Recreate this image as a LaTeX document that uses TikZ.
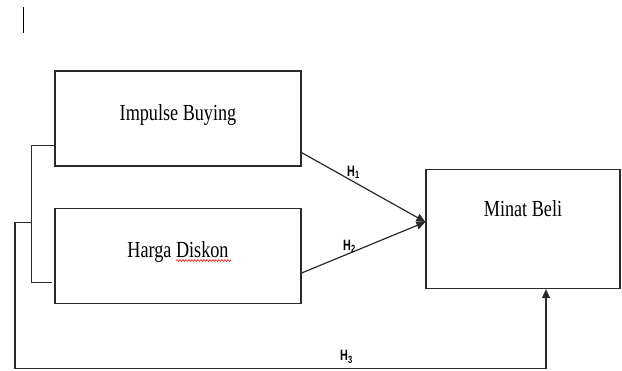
\documentclass[tikz,border=0pt]{standalone}
\usepackage{fontspec}
\setmainfont{Liberation Serif}
\newfontfamily\boxfont[FakeStretch=0.79]{Liberation Serif}
\newfontfamily\hfont[FakeStretch=0.72]{Liberation Sans}
\usetikzlibrary{arrows.meta,calc,decorations.pathmorphing}
\definecolor{linecol}{HTML}{2A2A2A}
\begin{document}
\begin{tikzpicture}[x=1pt,y=-1pt,
  box/.style={draw=linecol, line width=1.2pt, rectangle, inner sep=0pt},
  lbl/.style={inner sep=0pt, anchor=base, text=black, font=\boxfont\fontsize{23}{26}\selectfont},
  hlbl/.style={inner sep=0pt, anchor=base west, text=black, font=\hfont\bfseries\fontsize{15}{17}\selectfont},
  conn/.style={draw=linecol, line width=1.2pt},
  arr/.style={conn, -{Triangle[length=9pt,width=8pt]}}]
\useasboundingbox (0,0) rectangle (622,370);
% text cursor
\draw[black, line width=1pt] (23,7) coordinate (cur1) -- (23,33) coordinate (cur2);
% boxes
\node[box, minimum width=246pt, minimum height=95pt] (imp) at (178,118.5) {};
\node[box, minimum width=246pt, minimum height=95pt] (harga) at (178,256) {};
\node[box, minimum width=194pt, minimum height=119pt] (minat) at (523,229) {};
% texts
\node[lbl] (impT) at (178,120.7) {Impulse Buying};
\node[lbl] (hargaT) at (178,257.7) {Harga Diskon};
\node[lbl] (minatT) at (523,216) {Minat Beli};
% spell-check underline
\draw[red, line width=0.6pt, decorate, decoration={snake, amplitude=0.9pt, segment length=3pt}]
  (176,260.5) coordinate (w1) -- (231,260.5) coordinate (w2);
% bracket joining the two boxes
\coordinate (b1) at ($(imp.south west)+(0,-21)$);
\coordinate (b2) at ($(harga.south west)+(-2,-22)$);
\coordinate (b1x) at ($(b1)+(-23,0)$);
\coordinate (b2x) at (b1x |- b2);
\draw[conn] (b1) -- (b1x) -- (b2x) -- (b2);
% H1, H2
\coordinate (h1s) at ($(imp.south east)+(0,-14)$);
\coordinate (h2s) at ($(harga.east)+(0,17)$);
\coordinate (mt) at ($(minat.west)+(0,-7)$);
\draw[arr] (h1s) -- (mt);
\draw[arr] (h2s) -- (mt);
% H3
\coordinate (h3a) at (b1x |- 0,222.7);
\coordinate (h3b) at (15,222.7);
\coordinate (h3c) at (15,368.5);
\coordinate (h3e) at ($(minat.south)+(23,0)$);
\coordinate (h3d) at (h3e |- h3c);
\draw[arr] (h3a) -- (h3b) -- (h3c) -- (h3d) -- (h3e);
% labels
\node[hlbl] (H1) at (347,176.7) {H\textsubscript{1}};
\node[hlbl] (H2) at (343,250) {H\textsubscript{2}};
\node[hlbl] (H3) at (340,360.7) {H\textsubscript{3}};
\end{tikzpicture}
\end{document}
